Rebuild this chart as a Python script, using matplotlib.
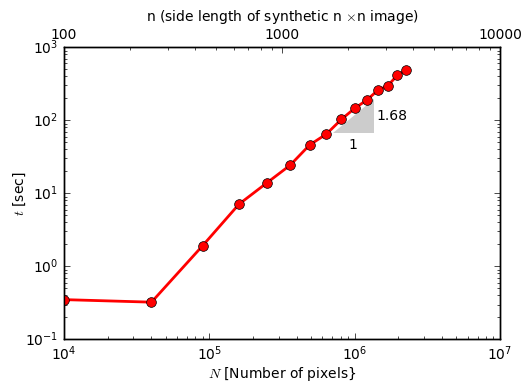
import matplotlib
matplotlib.use("Agg")
import matplotlib.pyplot as plt

# side length n of the synthetic n x n image, pixels N = n^2
n_side = [100, 200, 300, 400, 500, 600, 700, 800, 900, 1000, 1100, 1200, 1300, 1400, 1500]
n_pixels = [n * n for n in n_side]
t_sec = [0.35, 0.323, 1.92, 7.1, 14.0, 24.3, 46.0, 65.0, 103.0, 146.0, 189.0, 257.0, 297.0, 412.0, 486.0]

# slope triangle anchors
tri_x = [7.1e5, 1.35e6]
tri_y0 = 66.0
slope = 1.68

plt.style.use("classic")
plt.rcParams["figure.facecolor"] = "white"
plt.rcParams["savefig.facecolor"] = "white"
plt.rcParams["font.size"] = 10

fig = plt.figure(figsize=(5.27, 3.83), dpi=100)
ax = fig.add_axes([0.1214, 0.114, 0.8274, 0.7625])

# slope triangle
tri_y1 = tri_y0 * (tri_x[1] / tri_x[0]) ** slope
ax.fill([tri_x[0], tri_x[1], tri_x[1]], [tri_y0, tri_y0, tri_y1],
        color="0.8", edgecolor="none", zorder=1)
ax.text(tri_x[1] * 1.05, (tri_y0 * tri_y1) ** 0.5, "%.2f" % slope,
        ha="left", va="center", fontsize=10)
ax.text((tri_x[0] * tri_x[1]) ** 0.5, tri_y0 * 0.87, "1",
        ha="center", va="top", fontsize=10)

ax.loglog(n_pixels, t_sec, "-o", color="red", lw=2, mfc="red", mec="black",
          ms=7, zorder=3)
ax.set_xlim(1e4, 1e7)
ax.set_ylim(1e-1, 1e3)
ax.set_xlabel("$N$ [Number of pixels}", fontsize=10, labelpad=1)
ax.set_ylabel("$t$ [sec]", fontsize=10, labelpad=-2)
ax.tick_params(labelsize=10)

ax2 = ax.twiny()
ax2.set_xscale("log")
ax2.set_xlim(100, 10000)
ax2.set_xticks([100, 1000, 10000])
ax2.set_xticklabels(["100", "1000", "10000"])
ax2.tick_params(labelsize=10)
ax2.set_xlabel(r"n (side length of synthetic n $\times$n image)", fontsize=10)

plt.savefig("out.png", dpi=100)
